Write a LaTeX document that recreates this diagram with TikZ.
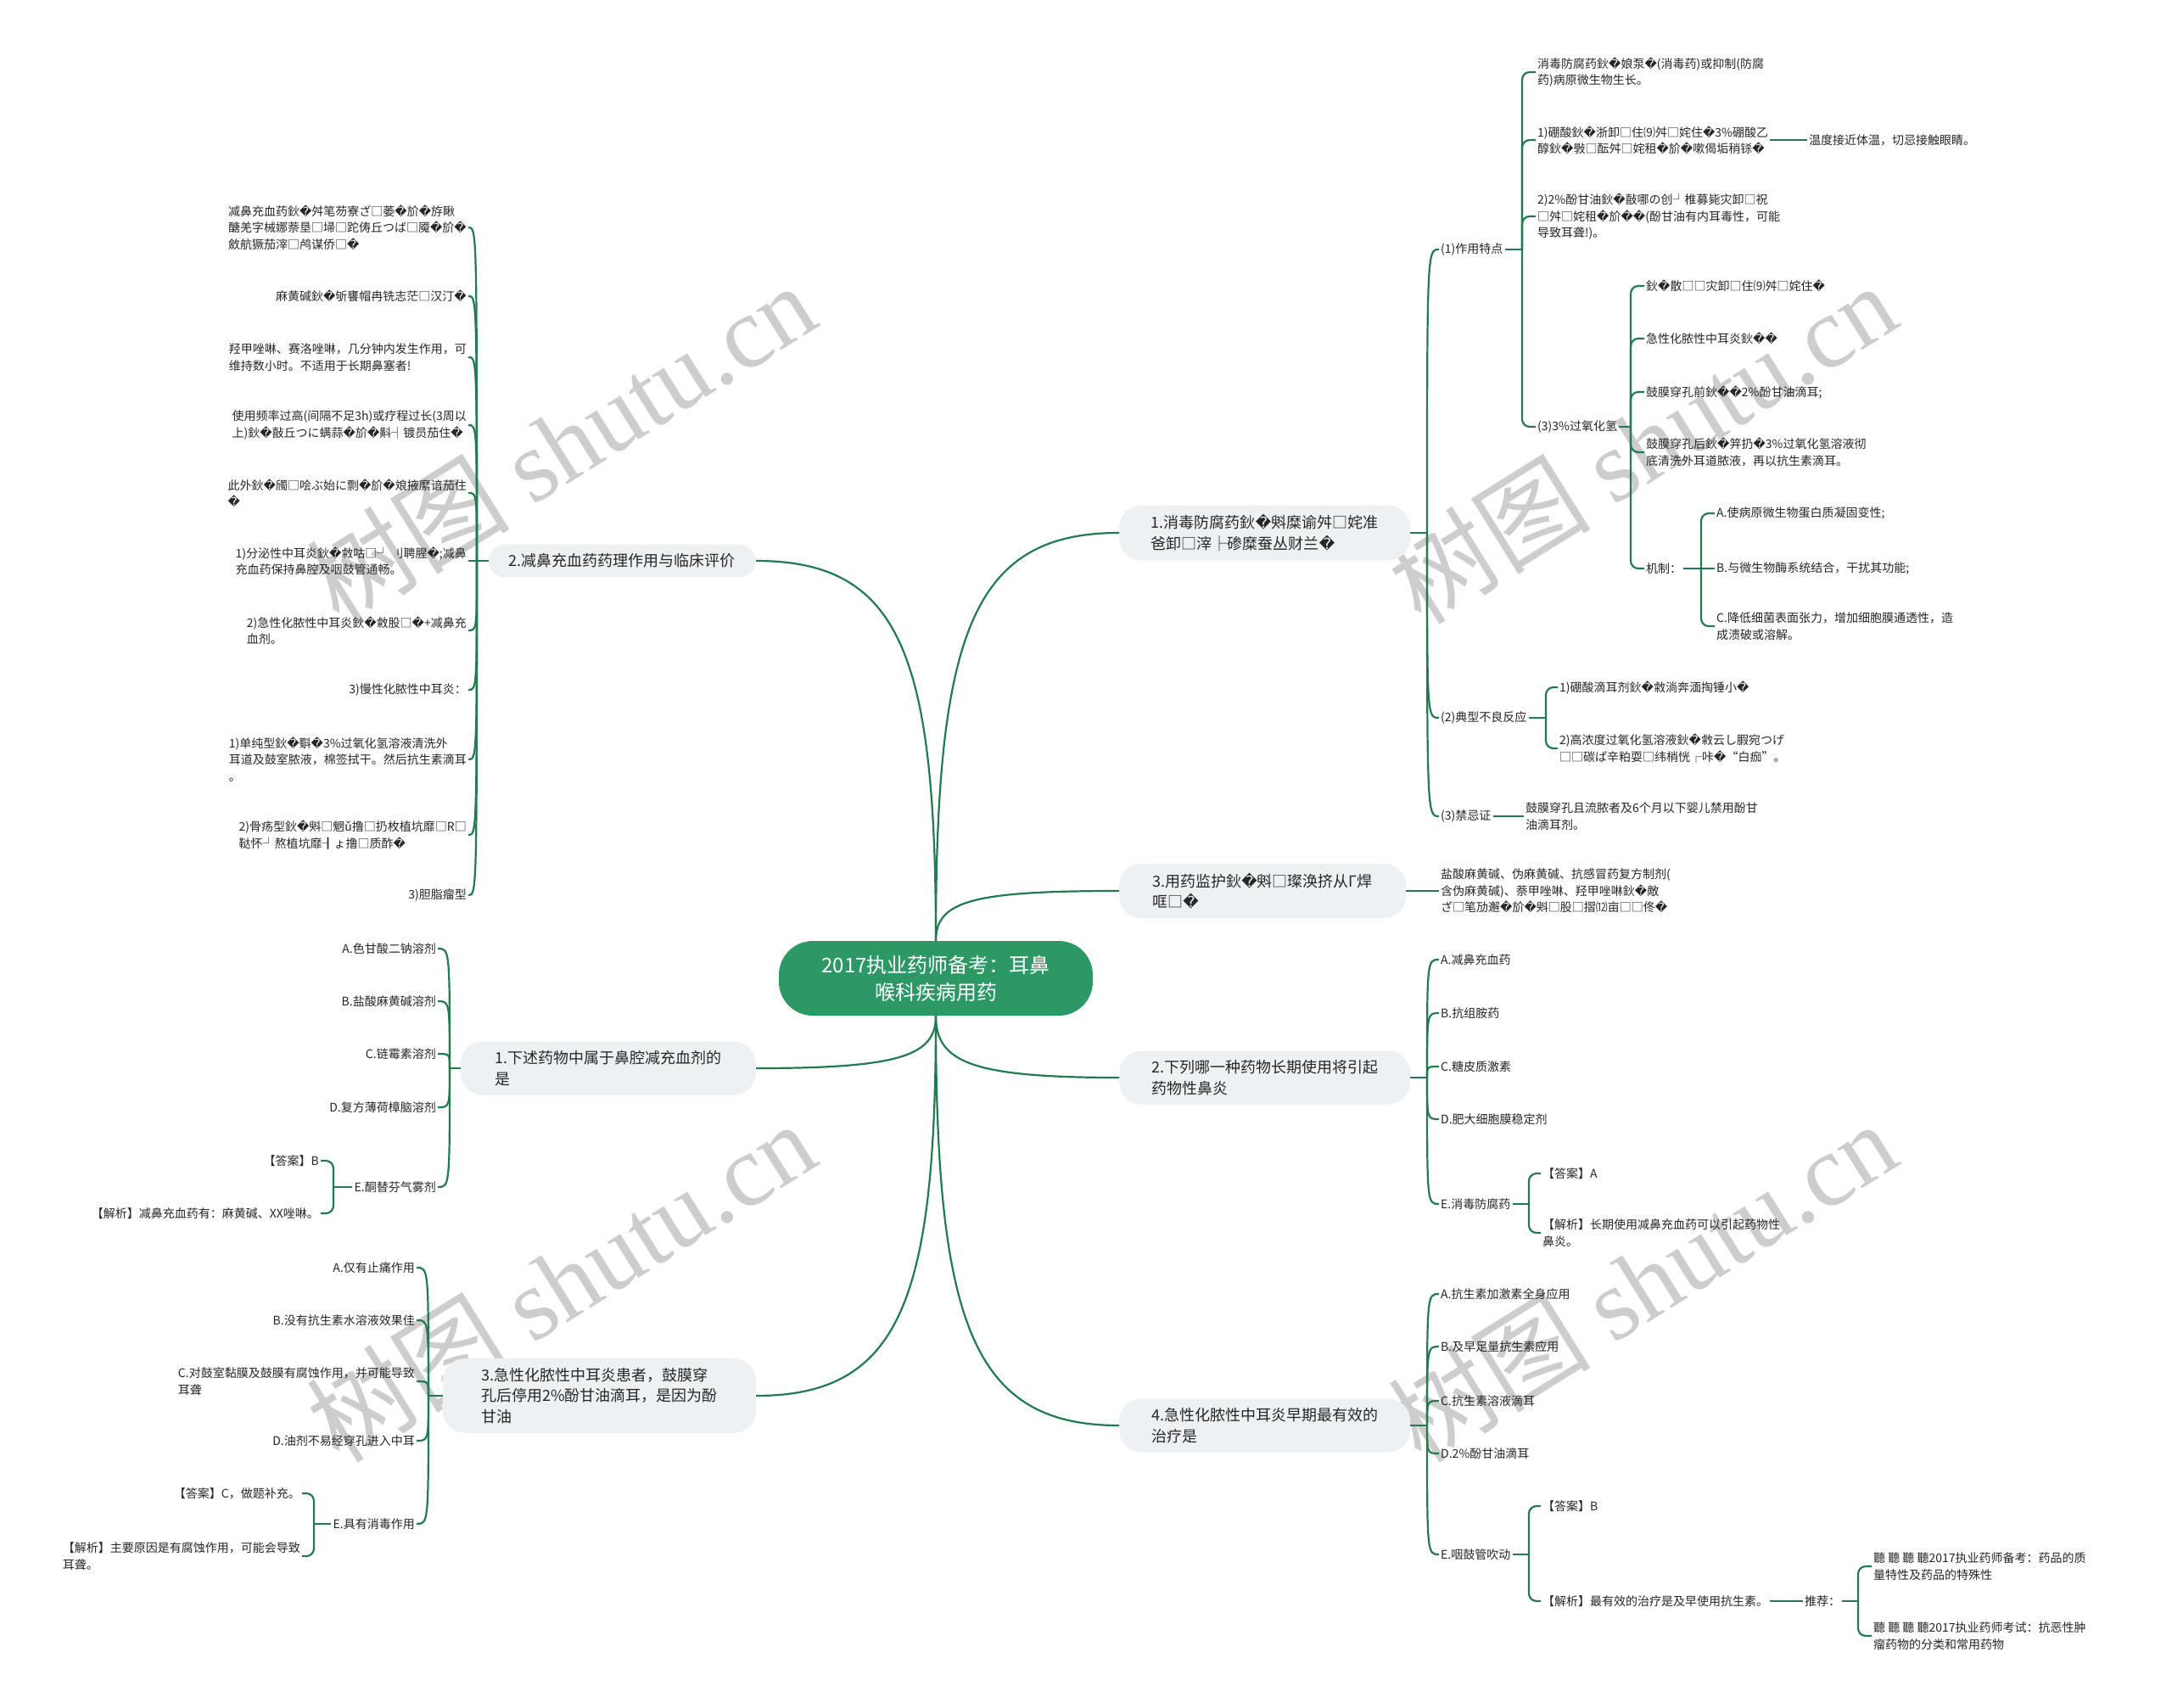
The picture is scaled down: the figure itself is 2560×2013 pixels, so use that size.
\documentclass[tikz,border=0pt]{standalone}
\usepackage{fontspec}
\setmainfont{Noto Sans CJK SC}
\newfontfamily\dejavu{DejaVu Sans}
\newfontfamily\wmserif{Liberation Serif}
\usetikzlibrary{calc}

% replacement glyph comes from DejaVu Sans
\catcode`�=\active
\def�{{\dejavu\char"FFFD\relax}}

\definecolor{linkgreen}{RGB}{33,122,80}
\definecolor{rootgreen}{RGB}{44,152,102}
\definecolor{topicgray}{RGB}{238,241,244}
\definecolor{inkgray}{RGB}{38,38,38}
\definecolor{markgray}{RGB}{205,205,205}

\newcommand{\curvelink}[2]{\draw[link] (#1) .. controls (#1 |- #2) and (#1 |- #2) .. (#2);}
\newcommand{\bracketlink}[2]{\draw[link, rounded corners=9pt] (#1) |- (#2);}

\begin{document}
\begin{tikzpicture}[
    x=1pt, y=-1pt,
    font=\fontsize{14}{19.5}\selectfont,
    text=inkgray
]

    % Global styles for the map
    \tikzset{
        link/.style={draw=linkgreen, line width=2.2pt},
        rootbox/.style={fill=rootgreen, text=white, rounded corners=40pt, align=center,
            font=\fontsize{24}{32}\selectfont, minimum width=370pt, minimum height=88pt},
        topicbox/.style={fill=topicgray, rounded corners=26pt, align=left,
            font=\fontsize{18}{24.5}\selectfont, inner xsep=24pt, inner ysep=11pt},
        leafR/.style={anchor=west, align=left, inner sep=2pt},
        leafL/.style={anchor=east, align=left, inner sep=2pt},
        watermark/.style={text=markgray, rotate=32, inner sep=0pt,
            font=\fontsize{120}{120}\selectfont}
    }

    \fill[white] (0,0) rectangle (2560,2013);
    \useasboundingbox (0,0) rectangle (2560,2013);

    % Watermarks
    \node[watermark] (wm1) at (661,522) {树图 {\wmserif shutu.cn}};
    \node[watermark] (wm2) at (1935,522) {树图 {\wmserif shutu.cn}};
    \node[watermark] (wm3) at (661,1510) {树图 {\wmserif shutu.cn}};
    \node[watermark] (wm4) at (1935,1510) {树图 {\wmserif shutu.cn}};

    % Root
    \node[rootbox] (root) at (1103,1153) {2017执业药师备考：耳鼻\\喉科疾病用药};

    % Main topics, right
    \node[topicbox, anchor=west, minimum width=343pt] (Ra) at (1319,628) {1.消毒防腐药鈥�斞糜谕舛□姹准\\爸卸□滓├碜糜蚕丛财兰�};
    \node[topicbox, anchor=west, minimum width=338pt] (Rb) at (1319,1050) {3.用药监护鈥�斞□璨涣挤从Γ焊\\哐□�};
    \node[topicbox, anchor=west, minimum width=343pt] (Rc) at (1319,1270) {2.下列哪一种药物长期使用将引起\\药物性鼻炎};
    \node[topicbox, anchor=west, minimum width=343pt] (Rd) at (1319,1680) {4.急性化脓性中耳炎早期最有效的\\治疗是};

    % Main topics, left
    \node[topicbox, anchor=east, minimum width=308pt, rounded corners=20pt] (La) at (891,661) {2.减鼻充血药药理作用与临床评价};
    \node[topicbox, anchor=east, minimum width=348pt] (Lb) at (891,1259) {1.下述药物中属于鼻腔减充血剂的\\是};
    \node[topicbox, anchor=east, minimum width=369pt] (Lc) at (891,1645) {3.急性化脓性中耳炎患者，鼓膜穿\\孔后停用2\%酚甘油滴耳，是因为酚\\甘油};

    % Root -> topics
    \draw[link] (root.north) .. controls +(0,-363) and +(-173,0) .. (Ra.west);
    \draw[link] (root.north) .. controls +(0,-47) and +(-173,0) .. (Rb.west);
    \draw[link] (root.south) .. controls +(0,55) and +(-173,0) .. (Rc.west);
    \draw[link] (root.south) .. controls +(0,362) and +(-173,0) .. (Rd.west);
    \draw[link] (root.north) .. controls +(0,-338) and +(170,0) .. (La.east);
    \draw[link] (root.south) .. controls +(0,47) and +(170,0) .. (Lb.east);
    \draw[link] (root.south) .. controls +(0,336) and +(170,0) .. (Lc.east);

    % Ra: 1.消毒防腐药
    \coordinate (Ra_j) at (1682,628);
    \draw[link] (Ra.east) -- (Ra_j);
    \node[leafR] (Ra_1) at (1696,294) {(1)作用特点};
    \node[leafR] (Ra_2) at (1696,846) {(2)典型不良反应};
    \node[leafR] (Ra_3) at (1696,962) {(3)禁忌证};
    \curvelink{Ra_j}{Ra_1.west}
    \curvelink{Ra_j}{Ra_2.west}
    \curvelink{Ra_j}{Ra_3.west}

    % Ra_1 children
    \coordinate (Ra_1_j) at (1794,294);
    \draw[link] (Ra_1.east) -- (Ra_1_j);
    \node[leafR] (Ra_1_1) at (1810,85) {消毒防腐药鈥�娘泵�(消毒药)或抑制(防腐\\药)病原微生物生长。};
    \node[leafR] (Ra_1_2) at (1810,165) {1)硼酸鈥�浙卸□住⑼舛□姹住�3\%硼酸乙\\醇鈥�斅□酝舛□姹租�斺�嗽偈垢稍铩�};
    \node[leafR] (Ra_1_2_1) at (2130,165) {温度接近体温，切忌接触眼睛。};
    \node[leafR] (Ra_1_3) at (1810,255) {2)2\%酚甘油鈥�敼哪の创┘椎募毙灾卸□祝\\□舛□姹租�斺��(酚甘油有内耳毒性，可能\\导致耳聋!)。};
    \node[leafR] (Ra_1_4) at (1810,503) {(3)3\%过氧化氢};
    \bracketlink{Ra_1_j}{Ra_1_1.west}
    \bracketlink{Ra_1_j}{Ra_1_2.west}
    \bracketlink{Ra_1_j}{Ra_1_3.west}
    \bracketlink{Ra_1_j}{Ra_1_4.west}
    \draw[link] (Ra_1_2.east) -- (Ra_1_2_1.west);

    % Ra_1_4 children (3% H2O2)
    \coordinate (Ra_1_4_j) at (1922,503);
    \draw[link] (Ra_1_4.east) -- (Ra_1_4_j);
    \node[leafR] (Ra_1_4_1) at (1938,337) {鈥�散□□灾卸□住⑼舛□姹住�};
    \node[leafR] (Ra_1_4_2) at (1938,399) {急性化脓性中耳炎鈥��};
    \node[leafR] (Ra_1_4_3) at (1938,462) {鼓膜穿孔前鈥��2\%酚甘油滴耳;};
    \node[leafR] (Ra_1_4_4) at (1938,533) {鼓膜穿孔后鈥�笄扔�3\%过氧化氢溶液彻\\底清洗外耳道脓液，再以抗生素滴耳。};
    \node[leafR] (Ra_1_4_5) at (1938,670) {机制：};
    \bracketlink{Ra_1_4_j}{Ra_1_4_1.west}
    \bracketlink{Ra_1_4_j}{Ra_1_4_2.west}
    \bracketlink{Ra_1_4_j}{Ra_1_4_3.west}
    \bracketlink{Ra_1_4_j}{Ra_1_4_4.west}
    \bracketlink{Ra_1_4_j}{Ra_1_4_5.west}

    % mechanism
    \coordinate (Ra_1_4_5_j) at (2005,670);
    \draw[link] (Ra_1_4_5.east) -- (Ra_1_4_5_j);
    \node[leafR] (Ra_1_4_5_1) at (2021,605) {A.使病原微生物蛋白质凝固变性;};
    \node[leafR] (Ra_1_4_5_2) at (2021,670) {B.与微生物酶系统结合，干扰其功能;};
    \node[leafR] (Ra_1_4_5_3) at (2021,738) {C.降低细菌表面张力，增加细胞膜通透性，造\\成溃破或溶解。};
    \bracketlink{Ra_1_4_5_j}{Ra_1_4_5_1.west}
    \draw[link] (Ra_1_4_5_j) -- (Ra_1_4_5_2.west);
    \bracketlink{Ra_1_4_5_j}{Ra_1_4_5_3.west}

    % Ra_2 children
    \coordinate (Ra_2_j) at (1822,846);
    \draw[link] (Ra_2.east) -- (Ra_2_j);
    \node[leafR] (Ra_2_1) at (1836,810) {1)硼酸滴耳剂鈥�敹淌奔湎掏锤小�};
    \node[leafR] (Ra_2_2) at (1836,882) {2)高浓度过氧化氢溶液鈥�敹云し腵宛つげ\\□□碳ぱ辛粕耍□纬梢恍┌咔�“白痂”。};
    \bracketlink{Ra_2_j}{Ra_2_1.west}
    \bracketlink{Ra_2_j}{Ra_2_2.west}

    % Ra_3 child
    \node[leafR] (Ra_3_1) at (1796,962) {鼓膜穿孔且流脓者及6个月以下婴儿禁用酚甘\\油滴耳剂。};
    \draw[link] (Ra_3.east) -- (Ra_3_1.west);

    % Rb: 3.用药监护
    \node[leafR] (Rb_1) at (1696,1050) {盐酸麻黄碱、伪麻黄碱、抗感冒药复方制剂(\\含伪麻黄碱)、萘甲唑啉、羟甲唑啉鈥�敵\\ざ□笔劢邂�斺�斞□股□摺⑿亩□□佟�};
    \draw[link] (Rb.east) -- (Rb_1.west);

    % Rc: 2.下列哪一种
    \coordinate (Rc_j) at (1682,1270);
    \draw[link] (Rc.east) -- (Rc_j);
    \node[leafR] (Rc_1) at (1696,1131) {A.减鼻充血药};
    \node[leafR] (Rc_2) at (1696,1194) {B.抗组胺药};
    \node[leafR] (Rc_3) at (1696,1257) {C.糖皮质激素};
    \node[leafR] (Rc_4) at (1696,1319) {D.肥大细胞膜稳定剂};
    \node[leafR] (Rc_5) at (1696,1419) {E.消毒防腐药};
    \curvelink{Rc_j}{Rc_1.west}
    \curvelink{Rc_j}{Rc_2.west}
    \curvelink{Rc_j}{Rc_3.west}
    \curvelink{Rc_j}{Rc_4.west}
    \curvelink{Rc_j}{Rc_5.west}
    \coordinate (Rc_5_j) at (1802,1419);
    \draw[link] (Rc_5.east) -- (Rc_5_j);
    \node[leafR] (Rc_5_1) at (1816,1383) {【答案】A};
    \node[leafR] (Rc_5_2) at (1816,1453) {【解析】长期使用减鼻充血药可以引起药物性\\鼻炎。};
    \bracketlink{Rc_5_j}{Rc_5_1.west}
    \bracketlink{Rc_5_j}{Rc_5_2.west}

    % Rd: 4.急性化脓性中耳炎早期
    \coordinate (Rd_j) at (1682,1680);
    \draw[link] (Rd.east) -- (Rd_j);
    \node[leafR] (Rd_1) at (1696,1525) {A.抗生素加激素全身应用};
    \node[leafR] (Rd_2) at (1696,1587) {B.及早足量抗生素应用};
    \node[leafR] (Rd_3) at (1696,1651) {C.抗生素溶液滴耳};
    \node[leafR] (Rd_4) at (1696,1713) {D.2\%酚甘油滴耳};
    \node[leafR] (Rd_5) at (1696,1832) {E.咽鼓管吹动};
    \curvelink{Rd_j}{Rd_1.west}
    \curvelink{Rd_j}{Rd_2.west}
    \curvelink{Rd_j}{Rd_3.west}
    \curvelink{Rd_j}{Rd_4.west}
    \curvelink{Rd_j}{Rd_5.west}
    \coordinate (Rd_5_j) at (1802,1832);
    \draw[link] (Rd_5.east) -- (Rd_5_j);
    \node[leafR] (Rd_5_1) at (1816,1775) {【答案】B};
    \node[leafR] (Rd_5_2) at (1816,1887) {【解析】最有效的治疗是及早使用抗生素。};
    \bracketlink{Rd_5_j}{Rd_5_1.west}
    \bracketlink{Rd_5_j}{Rd_5_2.west}
    \node[leafR] (Rd_5_2_1) at (2125,1887) {推荐：};
    \draw[link] (Rd_5_2.east) -- (Rd_5_2_1.west);
    \coordinate (Rd_5_2_1_j) at (2190,1887);
    \draw[link] (Rd_5_2_1.east) -- (Rd_5_2_1_j);
    \node[leafR] (Rd_5_2_1_1) at (2206,1846) {聽 聽 聽 聽2017执业药师备考：药品的质\\量特性及药品的特殊性};
    \node[leafR] (Rd_5_2_1_2) at (2206,1928) {聽 聽 聽 聽2017执业药师考试：抗恶性肿\\瘤药物的分类和常用药物};
    \bracketlink{Rd_5_2_1_j}{Rd_5_2_1_1.west}
    \bracketlink{Rd_5_2_1_j}{Rd_5_2_1_2.west}

    % La: 2.减鼻充血药药理作用
    \coordinate (La_j) at (562,661);
    \draw[link] (La.west) -- (La_j);
    \node[leafL] (La_1) at (552,268) {减鼻充血药鈥�舛笔芴寮ざ□萎�斺�斿瞅\\醣羌字械娜萘垦□埽□跎俦丘つば□魇�斺�\\斂航獗茄滓□鸬谋侨□�};
    \node[leafL] (La_2) at (552,349) {麻黄碱鈥�斪饔帽冉铣志茫□汉汀�};
    \node[leafL] (La_3) at (552,421) {羟甲唑啉、赛洛唑啉，几分钟内发生作用，可\\维持数小时。不适用于长期鼻塞者!};
    \node[leafL] (La_4) at (552,501) {使用频率过高(间隔不足3h)或疗程过长(3周以\\上)鈥�敼丘つに螨蒜�斺�斢┤镀员茄住�};
    \node[leafL] (La_5) at (552,581) {此外鈥�斶□哙ぶ始に剽�斺�斏掖縻谙茄住\\�};
    \node[leafL] (La_6) at (552,661) {1)分泌性中耳炎鈥�敹咕□┘ 刂聘腥�;减鼻\\充血药保持鼻腔及咽鼓管通畅。};
    \node[leafL] (La_7) at (552,743) {2)急性化脓性中耳炎鈥�敹股□�+减鼻充\\血剂。};
    \node[leafL] (La_8) at (552,813) {3)慢性化脓性中耳炎：};
    \node[leafL] (La_9) at (552,895) {1)单纯型鈥�斣�3\%过氧化氢溶液清洗外\\耳道及鼓室脓液，棉签拭干。然后抗生素滴耳\\。};
    \node[leafL] (La_10) at (552,984) {2)骨疡型鈥�斞□魍ǔ撸□扔枚植坑靡□R□\\鞑怀┘熬植坑靡┨ょ撸□质酢�};
    \node[leafL] (La_11) at (552,1055) {3)胆脂瘤型};
    \curvelink{La_j}{La_1.east}
    \curvelink{La_j}{La_2.east}
    \curvelink{La_j}{La_3.east}
    \curvelink{La_j}{La_4.east}
    \curvelink{La_j}{La_5.east}
    \curvelink{La_j}{La_6.east}
    \curvelink{La_j}{La_7.east}
    \curvelink{La_j}{La_8.east}
    \curvelink{La_j}{La_9.east}
    \curvelink{La_j}{La_10.east}
    \curvelink{La_j}{La_11.east}

    % Lb: 1.下述药物
    \coordinate (Lb_j) at (530,1259);
    \draw[link] (Lb.west) -- (Lb_j);
    \node[leafL] (Lb_1) at (516,1118) {A.色甘酸二钠溶剂};
    \node[leafL] (Lb_2) at (516,1180) {B.盐酸麻黄碱溶剂};
    \node[leafL] (Lb_3) at (516,1242) {C.链霉素溶剂};
    \node[leafL] (Lb_4) at (516,1305) {D.复方薄荷樟脑溶剂};
    \node[leafL] (Lb_5) at (516,1399) {E.酮替芬气雾剂};
    \curvelink{Lb_j}{Lb_1.east}
    \curvelink{Lb_j}{Lb_2.east}
    \curvelink{Lb_j}{Lb_3.east}
    \curvelink{Lb_j}{Lb_4.east}
    \curvelink{Lb_j}{Lb_5.east}
    \coordinate (Lb_5_j) at (393,1399);
    \draw[link] (Lb_5.west) -- (Lb_5_j);
    \node[leafL] (Lb_5_1) at (378,1368) {【答案】B};
    \node[leafL] (Lb_5_2) at (378,1430) {【解析】减鼻充血药有：麻黄碱、XX唑啉。};
    \bracketlink{Lb_5_j}{Lb_5_1.east}
    \bracketlink{Lb_5_j}{Lb_5_2.east}

    % Lc: 3.急性化脓性中耳炎患者
    \coordinate (Lc_j) at (505,1645);
    \draw[link] (Lc.west) -- (Lc_j);
    \node[leafL] (Lc_1) at (491,1494) {A.仅有止痛作用};
    \node[leafL] (Lc_2) at (491,1556) {B.没有抗生素水溶液效果佳};
    \node[leafL] (Lc_3) at (491,1628) {C.对鼓室黏膜及鼓膜有腐蚀作用，并可能导致\\耳聋};
    \node[leafL] (Lc_4) at (491,1698) {D.油剂不易经穿孔进入中耳};
    \node[leafL] (Lc_5) at (491,1796) {E.具有消毒作用};
    \curvelink{Lc_j}{Lc_1.east}
    \curvelink{Lc_j}{Lc_2.east}
    \curvelink{Lc_j}{Lc_3.east}
    \curvelink{Lc_j}{Lc_4.east}
    \curvelink{Lc_j}{Lc_5.east}
    \coordinate (Lc_5_j) at (370,1796);
    \draw[link] (Lc_5.west) -- (Lc_5_j);
    \node[leafL] (Lc_5_1) at (356,1760) {【答案】C，做题补充。};
    \node[leafL] (Lc_5_2) at (356,1834) {【解析】主要原因是有腐蚀作用，可能会导致\\耳聋。};
    \bracketlink{Lc_5_j}{Lc_5_1.east}
    \bracketlink{Lc_5_j}{Lc_5_2.east}

\end{tikzpicture}
\end{document}
